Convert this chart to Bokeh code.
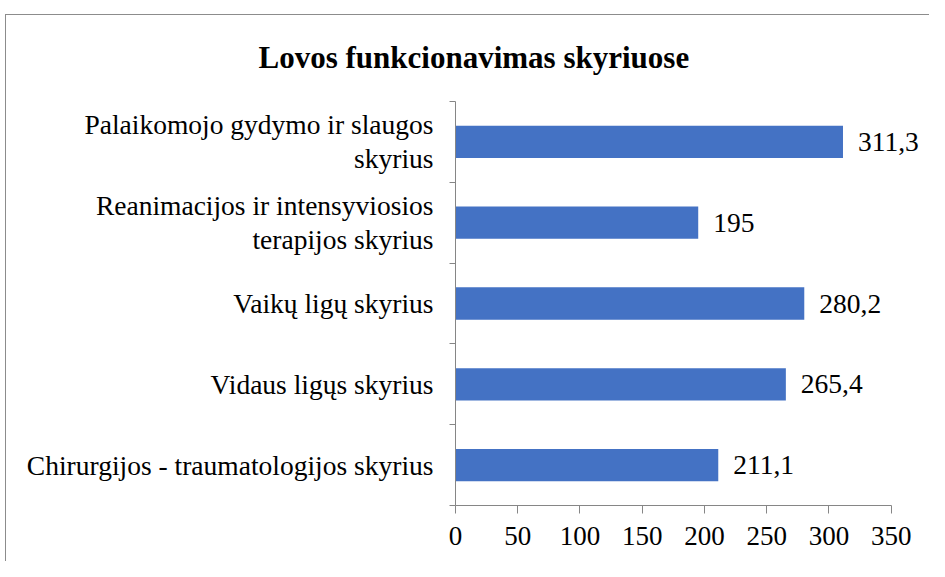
from bokeh.plotting import figure
from bokeh.models import Range1d, FixedTicker, ColumnDataSource
from bokeh.core.properties import value
from bokeh.embed import file_html
from bokeh.resources import INLINE

# Data (bottom to top)
categories = [
    "Chirurgijos - traumatologijos skyrius",
    "Vidaus ligųs skyrius",
    "Vaikų ligų skyrius",
    "Reanimacijos ir intensyviosios\nterapijos skyrius",
    "Palaikomojo gydymo ir slaugos\nskyrius",
]
values = [211.1, 265.4, 280.2, 195, 311.3]
x_ticks = [0, 50, 100, 150, 200, 250, 300, 350]

FONT = "Liberation Serif"
BAR = "#4472C4"
AXIS = "#868686"
FRAME = "#8c8c8c"

pos = [i + 0.5 for i in range(len(categories))]
labels = [f"{v:g}".replace(".", ",") for v in values]
src = ColumnDataSource(dict(y=pos, v=values, lab=labels))

p = figure(
    width=929, height=561,
    x_range=Range1d(0, 380.8), y_range=Range1d(0, len(categories)),
    output_backend="svg", toolbar_location=None,
    min_border_left=455, min_border_right=0, min_border_top=101, min_border_bottom=56,
)
p.background_fill_color = None
p.border_fill_color = None
p.styles = {
    "background": (
        f"linear-gradient({FRAME},{FRAME}) 5px 14px / 1px 100% no-repeat, "
        f"linear-gradient({FRAME},{FRAME}) 5px 14px / 100% 1px no-repeat, white"
    )
}
p.outline_line_color = None
p.grid.visible = False

p.hbar(y="y", right="v", left=0, height=0.4, source=src, color=BAR, line_color=None)
p.text(x="v", y="y", text="lab", source=src, x_offset=15, text_align="left",
       text_baseline="middle", text_font=value(FONT), text_font_size="27.5px",
       text_color="black")

# Title
p.title.text = "Lovos funkcionavimas skyriuose"
p.title.text_font = FONT
p.title.text_font_style = "bold"
p.title.text_font_size = "31px"
p.title.text_color = "black"
p.title.align = "left"
p.title.offset = -197
p.title.standoff = 54

# X axis
xa = p.xaxis[0]
xa.ticker = FixedTicker(ticks=x_ticks)
xa.bounds = (0, 350)
xa.axis_line_color = AXIS
xa.major_tick_line_color = AXIS
xa.major_tick_out = 8
xa.major_tick_in = 0
xa.minor_tick_line_color = None
xa.major_label_text_font = FONT
xa.major_label_text_font_size = "27px"
xa.major_label_text_color = "black"
xa.major_label_standoff = 13

# Y axis
ya = p.yaxis[0]
ya.ticker = FixedTicker(ticks=pos, minor_ticks=list(range(len(categories) + 1)))
ya.major_label_overrides = {pp: c for pp, c in zip(pos, categories)}
ya.axis_line_color = AXIS
ya.major_tick_line_color = None
ya.major_tick_out = 0
ya.major_tick_in = 0
ya.minor_tick_line_color = AXIS
ya.minor_tick_out = 6
ya.minor_tick_in = 0
ya.major_label_text_font = FONT
ya.major_label_text_font_size = "27.5px"
ya.major_label_text_color = "black"
ya.major_label_text_line_height = 1.1
ya.major_label_standoff = 16

open("out.html", "w").write(file_html(p, INLINE))
